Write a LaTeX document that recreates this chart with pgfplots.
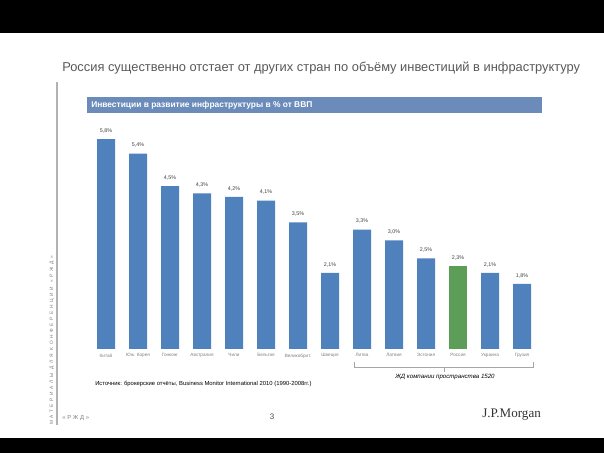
\documentclass[border=0pt]{standalone}
\usepackage{fontspec}
\setmainfont{Liberation Sans}
\newfontfamily\jpfont{Liberation Serif}
\usepackage{pgfplots}
\pgfplotsset{compat=1.18}
\definecolor{barblue}{RGB}{79,129,189}
\definecolor{bargreen}{RGB}{92,158,88}
\definecolor{headblue}{RGB}{107,140,186}
\definecolor{titlegray}{RGB}{89,89,89}
\begin{document}
\begin{tikzpicture}[x=0.75pt,y=0.75pt]
% slide frame (1 unit = 1 px of the 604x453 slide, y upwards)
\fill[white] (0,0) rectangle (604,453);
\fill[black] (0,420) rectangle (604,453);
\fill[black] (0,0) rectangle (604,15);
\node[anchor=base west, inner sep=0, text=titlegray, font=\fontsize{9.65}{11}\selectfont] at (62,381)
  {Россия существенно отстает от других стран по объёму инвестиций в инфраструктуру};
\draw[gray!60, line width=1pt] (57,371) -- (57,28);
\node[rotate=90, anchor=base west, inner sep=0, text=gray, font=\fontsize{3.6}{4}\selectfont\addfontfeature{LetterSpace=55}] at (53,28)
  {МАТЕРИАЛЫ ДЛЯ КОНФЕРЕНЦИИ «РЖД»};
\fill[headblue] (87,340) rectangle (542,356);
\node[anchor=west, inner sep=0, text=white, font=\bfseries\fontsize{6.3}{7}\selectfont] at (91,348)
  {Инвестиции в развитие инфраструктуры в \% от ВВП};

\begin{axis}[
    at={(67.5pt,78pt)}, anchor=south west,
    scale only axis,
    x=24pt, y=27.15pt,
    xmin=-0.5, xmax=13.5,
    ymin=0, ymax=6,
    axis lines=left,
    axis line style={draw=none},
    ytick=\empty,
    xtick={0,...,13},
    major tick length=0pt,
    xticklabels={Китай, Юж. Корея, Гонконг, Австралия, Чили, Бельгия, Великобрит., Швеция,
                 Литва, Латвия, Эстония, Россия, Украина, Грузия},
    x tick label style={font=\fontsize{3.5}{4}\selectfont, text=gray},
    ybar,
    bar width=13.5pt,
    point meta=explicit symbolic,
    nodes near coords=\pgfplotspointmeta,
    every node near coord/.append style={font=\fontsize{4}{5}\selectfont, text=black!75, yshift=1pt},
    clip=false,
]
\addplot[fill=barblue, draw=none, bar shift=0pt] coordinates {
    (0,5.8) [5,8\%]
    (1,5.4) [5,4\%]
    (2,4.5) [4,5\%]
    (3,4.3) [4,3\%]
    (4,4.2) [4,2\%]
    (5,4.1) [4,1\%]
    (6,3.5) [3,5\%]
    (7,2.1) [2,1\%]
    (8,3.3) [3,3\%]
    (9,3.0) [3,0\%]
    (10,2.5) [2,5\%]
    (12,2.1) [2,1\%]
    (13,1.8) [1,8\%]
};
\addplot[fill=bargreen, draw=none, bar shift=0pt] coordinates {
    (11,2.3) [2,3\%]
};
\end{axis}

% bracket under the 1520 group
\draw[gray!70, line width=0.5pt] (354,91) -- (354,86) -- (533,86) -- (533,91);
\draw[gray!70, line width=0.5pt] (444,86) -- (444,81);
\node[anchor=base, inner sep=0, font=\itshape\fontsize{4.6}{5}\selectfont] at (445,74)
  {ЖД компании пространства 1520};
\node[anchor=base west, inner sep=0, font=\fontsize{4.4}{5}\selectfont] at (95,67)
  {Источник: брокерские отчёты, Business Monitor International 2010 (1990-2008гг.)};
% footer
\node[anchor=base west, inner sep=0, text=gray, font=\fontsize{4.4}{5}\selectfont\addfontfeature{LetterSpace=30}] at (62,33)
  {«РЖД»};
\node[anchor=base, inner sep=0, text=black!70, font=\fontsize{6}{7}\selectfont] at (272,33) {3};
\node[anchor=base west, inner sep=0, text=black!80, font=\jpfont\fontsize{9.8}{10}\selectfont] at (482,35) {J.P.Morgan};
\end{tikzpicture}
\end{document}
